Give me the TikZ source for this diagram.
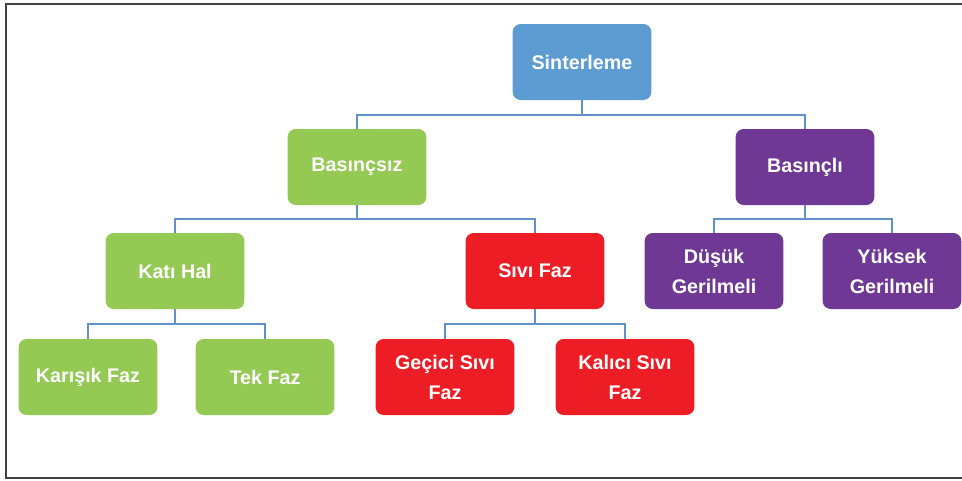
\documentclass[tikz,border=0pt]{standalone}
\usepackage{fontspec}
\setmainfont{Liberation Sans}
\begin{document}
\begin{tikzpicture}[x=0.75pt,y=-0.75pt,
  box/.style={rounded corners=6pt, minimum width=104pt, minimum height=57pt, inner sep=0pt,
    text=white, align=center, font=\fontsize{14.8}{22.5}\selectfont\bfseries},
  blueb/.style={box, fill=sBlue},
  greenb/.style={box, fill=sGreen},
  purpleb/.style={box, fill=sPurple},
  redb/.style={box, fill=sRed},
  link/.style={draw=sLine, line width=1.3pt},
  frame/.style={draw=black!75, line width=1.2pt}]
\definecolor{sBlue}{RGB}{93,155,211}
\definecolor{sGreen}{RGB}{148,201,83}
\definecolor{sPurple}{RGB}{110,56,148}
\definecolor{sRed}{RGB}{236,29,37}
\definecolor{sLine}{RGB}{96,145,200}
\useasboundingbox (0,0) rectangle (962,480);
\draw[frame] (962,4) -- (6,4) -- (6,478) -- (962,478);
\node[blueb]   (sint) at (582,62)  {Sinterleme};
\node[greenb]  (bsz)  at (357,167) {Basınçsız};
\node[purpleb] (bli)  at (805,167) {Basınçlı};
\node[greenb]  (kati) at (175,271) {Katı Hal};
\node[redb]    (sivi) at (535,271) {Sıvı Faz};
\node[purpleb] (dus)  at (714,271) {Düşük\\Gerilmeli};
\node[purpleb] (yuk)  at (892,271) {Yüksek\\Gerilmeli};
\node[greenb]  (kar)  at (88,377)  {Karışık Faz};
\node[greenb]  (tek)  at (265,377) {Tek Faz};
\node[redb]    (gec)  at (445,377) {Geçici Sıvı\\Faz};
\node[redb]    (kal)  at (625,377) {Kalıcı Sıvı\\Faz};
\draw[link] (sint.south) -- ++(0,15) -| (bsz.north);
\draw[link] (sint.south) -- ++(0,15) -| (bli.north);
\draw[link] (bsz.south) -- ++(0,14) -| (kati.north);
\draw[link] (bsz.south) -- ++(0,14) -| (sivi.north);
\draw[link] (bli.south) -- ++(0,14) -| (dus.north);
\draw[link] (bli.south) -- ++(0,14) -| (yuk.north);
\draw[link] (kati.south) -- ++(0,15) -| (kar.north);
\draw[link] (kati.south) -- ++(0,15) -| (tek.north);
\draw[link] (sivi.south) -- ++(0,15) -| (gec.north);
\draw[link] (sivi.south) -- ++(0,15) -| (kal.north);
\end{tikzpicture}
\end{document}
